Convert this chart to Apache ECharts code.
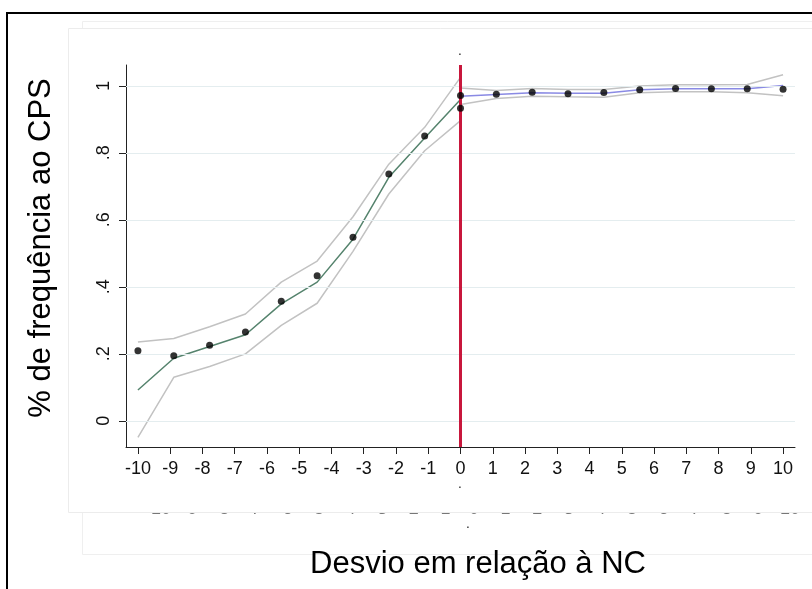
<!DOCTYPE html>
<html><head><meta charset="utf-8">
<script src="https://cdn.jsdelivr.net/npm/echarts@6/dist/echarts.min.js"></script>
<style>html,body{margin:0;padding:0;background:#fff}#c{width:812px;height:589px}</style>
</head><body><div id="c"></div>
<script>
const xTickValues = [-10,-9,-8,-7,-6,-5,-4,-3,-2,-1,0,1,2,3,4,5,6,7,8,9,10];
const xTickLabels = ['-10','-9','-8','-7','-6','-5','-4','-3','-2','-1','0','1','2','3','4','5','6','7','8','9','10'];
const yTickValues = [0, 0.2, 0.4, 0.6, 0.8, 1];
const yTickLabels = ['0', '.2', '.4', '.6', '.8', '1'];

const leftX = [-10, -8.889, -7.778, -6.667, -5.556, -4.444, -3.333, -2.222, -1.111, 0];
const leftObs = [0.209, 0.194, 0.226, 0.265, 0.357, 0.433, 0.548, 0.737, 0.850, 0.933];
const leftFit = [0.092, 0.187, 0.222, 0.257, 0.349, 0.414, 0.542, 0.727, 0.844, 0.959];
const leftUpper = [0.235, 0.246, 0.281, 0.319, 0.414, 0.477, 0.609, 0.766, 0.876, 1.025];
const leftLower = [-0.049, 0.130, 0.162, 0.200, 0.285, 0.351, 0.506, 0.677, 0.806, 0.896];

const rightX = [0, 1.111, 2.222, 3.333, 4.444, 5.556, 6.667, 7.778, 8.889, 10];
const rightObs = [0.971, 0.975, 0.981, 0.976, 0.980, 0.988, 0.992, 0.991, 0.991, 0.990];
const rightFit = [0.969, 0.974, 0.979, 0.978, 0.978, 0.988, 0.991, 0.991, 0.991, 1.001];
const rightUpper = [0.993, 0.986, 0.992, 0.989, 0.989, 0.999, 1.003, 1.003, 1.004, 1.033];
const rightLower = [0.944, 0.962, 0.969, 0.967, 0.966, 0.979, 0.982, 0.982, 0.979, 0.970];

const cutoff = 0;
const xTitle = 'Desvio em relação à NC';
const yTitle = '% de frequência ao CPS';

const FONT = '"Liberation Sans", Arial, sans-serif';
const pairs = (xs, ys) => xs.map((x, i) => [x, ys[i]]);
const findLabel = (vals, labs, v) => {
  const i = vals.findIndex(t => Math.abs(t - v) < 1e-9);
  return i >= 0 ? labs[i] : '';
};

const chart = echarts.init(document.getElementById('c'), null, {renderer: 'canvas'});

const lineS = (name, data, color, width, z) => ({
  name, type: 'line', data, symbol: 'none', z: z,
  lineStyle: {color, width}, silent: true
});

const ghost = xTickLabels.map((t, i) => ({
  type: 'text', z: -8, silent: true,
  x: 158 + i * 31.6, y: 518.5,
  style: {text: t, font: '18px ' + FONT, fill: '#777', align: 'center', verticalAlign: 'bottom'}
}));

const option = {
  animation: false,
  backgroundColor: '#fff',
  grid: {left: 126, right: 17, top: 65, bottom: 142, outerBoundsMode: 'none', containLabel: false},
  xAxis: {
    type: 'value', min: -10.37, max: 10.37,
    axisLine: {show: true, onZero: false, lineStyle: {color: '#222', width: 1}},
    axisTick: {show: true, length: 7, customValues: xTickValues, lineStyle: {color: '#222'}},
    axisLabel: {customValues: xTickValues, formatter: v => findLabel(xTickValues, xTickLabels, v),
      fontSize: 18, color: '#111', margin: 13, fontFamily: FONT},
    splitLine: {show: false}
  },
  yAxis: {
    type: 'value', min: -0.078, max: 1.062,
    axisLine: {show: true, onZero: false, lineStyle: {color: '#222', width: 1}},
    axisTick: {show: true, length: 7, customValues: yTickValues, lineStyle: {color: '#222'}},
    axisLabel: {customValues: yTickValues, formatter: v => findLabel(yTickValues, yTickLabels, v),
      fontSize: 18, color: '#111', margin: 13, rotate: 90, fontFamily: FONT},
    splitLine: {show: false}
  },
  series: [
    {type: 'line', data: [], z: 1, silent: true,
      markLine: {silent: true, symbol: 'none', label: {show: false},
        lineStyle: {color: '#e4edef', width: 1.2, type: 'solid'},
        data: yTickValues.map(v => ({yAxis: v}))}},
    lineS('lu', pairs(leftX, leftUpper), '#c2c2c2', 1.5, 2),
    lineS('ll', pairs(leftX, leftLower), '#c2c2c2', 1.5, 2),
    lineS('ru', pairs(rightX, rightUpper), '#c2c2c2', 1.5, 2),
    lineS('rl', pairs(rightX, rightLower), '#c2c2c2', 1.5, 2),
    lineS('lf', pairs(leftX, leftFit), '#55836d', 1.5, 3),
    lineS('rf', pairs(rightX, rightFit), '#8a8ae4', 1.5, 3),
    {type: 'line', data: [], z: 4, silent: true,
      markLine: {silent: true, symbol: 'none', label: {show: false},
        lineStyle: {color: '#c8173c', width: 3, type: 'solid'},
        data: [{xAxis: cutoff}]}},
    {type: 'scatter', data: pairs(leftX, leftObs), symbolSize: 7, z: 6,
      itemStyle: {color: '#000'}, silent: true},
    {type: 'scatter', data: pairs(rightX, rightObs), symbolSize: 7, z: 6,
      itemStyle: {color: '#000'}, silent: true}
  ],
  graphic: [
    {type: 'rect', z: -20, silent: true, shape: {x: 7, y: 13, width: 900, height: 700},
      style: {fill: '#fff', stroke: '#000', lineWidth: 2}},
    {type: 'rect', z: -10, silent: true, shape: {x: 82.5, y: 21.5, width: 800, height: 533},
      style: {fill: '#fff', stroke: '#efefef', lineWidth: 1}},
  ].concat(ghost).concat([
    {type: 'rect', z: -6, silent: true, shape: {x: 68.5, y: 28.5, width: 800, height: 484},
      style: {fill: '#fff', stroke: '#ececec', lineWidth: 1}},
    {type: 'text', z: 10, silent: true, x: 460, y: 58,
      style: {text: '.', font: '12px ' + FONT, fill: '#000', align: 'center', verticalAlign: 'bottom'}},
    {type: 'text', z: 10, silent: true, x: 460, y: 491,
      style: {text: '.', font: '12px ' + FONT, fill: '#000', align: 'center', verticalAlign: 'bottom'}},
    {type: 'text', z: 10, silent: true, x: 468, y: 531,
      style: {text: '.', font: '12px ' + FONT, fill: '#000', align: 'center', verticalAlign: 'bottom'}},
    {type: 'text', z: 10, silent: true, x: 478, y: 564,
      style: {text: xTitle, font: '31px ' + FONT, fill: '#000', align: 'center', verticalAlign: 'middle'}},
    {type: 'text', z: 10, silent: true, x: 41, y: 248, rotation: Math.PI / 2,
      style: {text: yTitle, font: '31px ' + FONT, fill: '#000', align: 'center', verticalAlign: 'middle'}}
  ])
};
chart.setOption(option);
</script>
</body></html>
